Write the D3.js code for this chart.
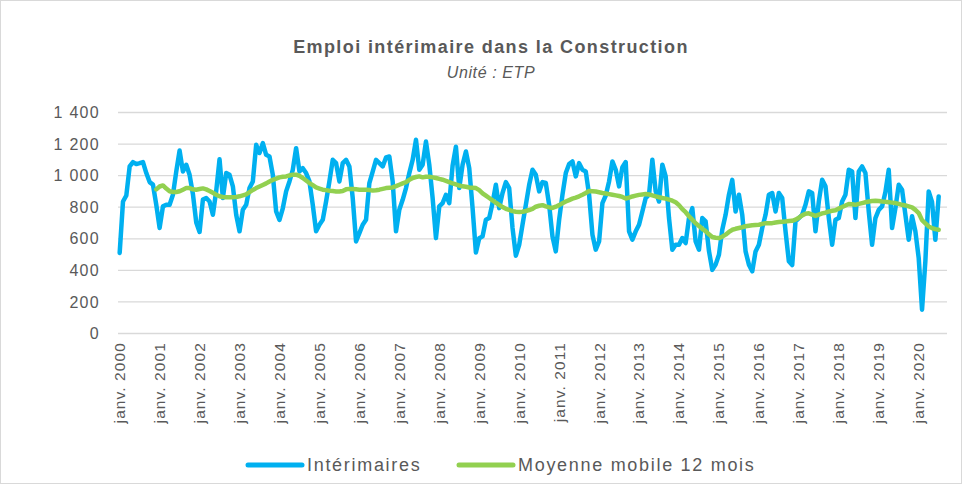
<!DOCTYPE html>
<html>
<head>
<meta charset="utf-8">
<script src="https://cdn.jsdelivr.net/npm/d3@7"></script>
<style>
  body { margin: 0; background: #fff; }
  svg { font-family: "Liberation Sans", Arial, sans-serif; }
  .y.axis text { fill: #595959; font-size: 16px; letter-spacing: 1.3px; }
  .x.axis text { fill: #595959; font-size: 15.5px; letter-spacing: 1.1px; }
  .legend text { fill: #595959; font-size: 18px; letter-spacing: 1.7px; }
</style>
</head>
<body>
<svg width="962" height="484"></svg>
<script>
// Titles and legend labels
const titre = "Emploi intérimaire dans la Construction";
const sousTitre = "Unité : ETP";
const series = ["Intérimaires", "Moyenne mobile 12 mois"];

// Y ticks
const yTicks = [0, 200, 400, 600, 800, 1000, 1200, 1400];

// X tick labels (one per January)
const etiquettesAnnees = ["janv. 2000", "janv. 2001", "janv. 2002", "janv. 2003", "janv. 2004",
    "janv. 2005", "janv. 2006", "janv. 2007", "janv. 2008", "janv. 2009", "janv. 2010",
    "janv. 2011", "janv. 2012", "janv. 2013", "janv. 2014", "janv. 2015", "janv. 2016",
    "janv. 2017", "janv. 2018", "janv. 2019", "janv. 2020"];

// Categories: months Jan 2000 -> Sep 2020
const mois = d3.timeMonth.range(new Date(2000, 0, 1), new Date(2020, 9, 1));

// Monthly temp workers (Jan 2000 -> Jul 2020)
const interimaires = [
    507, 833, 871, 1055, 1083, 1070, 1076, 1083, 1013, 956, 940, 812,   // 2000
    665, 802, 812, 812, 876, 1023, 1156, 1023, 1066, 1002, 880, 700,    // 2001
    640, 845, 855, 833, 749, 900, 1100, 855, 1013, 1002, 929, 749,      // 2002
    644, 781, 812, 918, 960, 1192, 1140, 1203, 1129, 1118, 1002, 770,   // 2003
    717, 790, 897, 960, 1034, 1171, 1023, 1044, 1013, 960, 812, 644,    // 2004
    686, 717, 833, 960, 1097, 1076, 960, 1076, 1097, 1055, 855, 580,    // 2005
    633, 686, 717, 950, 1023, 1097, 1076, 1055, 1112, 1118, 960, 644,   // 2006
    781, 844, 918, 1013, 1097, 1224, 1034, 1066, 1213, 1066, 855, 601,  // 2007
    802, 823, 876, 823, 1060, 1180, 918, 1066, 1150, 1044, 791, 510,    // 2008
    600, 612, 717, 728, 823, 939, 791, 887, 956, 918, 665, 490,         // 2009
    559, 686, 812, 939, 1034, 1002, 897, 956, 950, 812, 612, 517,       // 2010
    717, 876, 1013, 1070, 1087, 992, 1076, 1034, 1023, 876, 623, 528,   // 2011
    580, 823, 871, 960, 1087, 1034, 929, 1050, 1083, 644, 591, 644,     // 2012
    686, 770, 855, 876, 1097, 897, 833, 1066, 992, 728, 528, 559,       // 2013
    559, 601, 570, 728, 791, 580, 528, 728, 707, 520, 400, 433,         // 2014
    496, 654, 749, 876, 970, 770, 876, 749, 517, 433, 391, 517,         // 2015
    559, 665, 749, 876, 887, 770, 887, 855, 644, 454, 430, 707,         // 2016
    728, 749, 812, 897, 887, 644, 833, 971, 929, 728, 559, 717,         // 2017
    728, 833, 876, 1034, 1023, 728, 1023, 1055, 1013, 770, 559, 728,    // 2018
    780, 802, 893, 1034, 665, 791, 939, 908, 749, 591, 739, 644,        // 2019
    475, 148, 454, 897, 830, 590, 865                                   // 2020
];

// 12-month moving average, Dec 2000 -> Jul 2020
const debutMoyenne = 11;
const moyenne = [
    910,                                                                 // 2000
    928, 935, 915, 898, 893, 893, 898, 908, 918, 918, 910, 908,          // 2001
    912, 916, 910, 900, 888, 876, 866, 862, 860, 860, 860, 862,          // 2002
    866, 872, 878, 892, 906, 918, 928, 938, 948, 960, 970, 978,          // 2003
    986, 990, 992, 998, 1003, 1003, 995, 982, 966, 950, 936, 922,        // 2004
    915, 908, 905, 901, 899, 897, 897, 900, 910, 913, 912, 910,          // 2005
    908, 908, 907, 906, 902, 904, 908, 913, 918, 920, 922, 930,          // 2006
    939, 948, 956, 970, 982, 988, 992, 986, 990, 990, 986, 982,          // 2007
    976, 971, 964, 956, 948, 941, 934, 929, 926, 922, 920, 918,          // 2008
    905, 885, 870, 855, 840, 825, 812, 798, 787, 780, 772, 768,          // 2009
    767, 768, 773, 779, 786, 800, 806, 810, 802, 796, 792, 800,          // 2010
    810, 822, 833, 842, 851, 858, 866, 876, 887, 900, 898, 896,          // 2011
    892, 887, 884, 880, 876, 872, 868, 862, 852, 858, 865, 870,          // 2012
    875, 878, 880, 877, 872, 866, 860, 855, 851, 845, 838, 828,          // 2013
    810, 785, 765, 740, 718, 695, 678, 660, 645, 625, 608, 603,          // 2014
    601, 610, 623, 640, 654, 660, 665, 670, 676, 679, 682, 684,          // 2015
    686, 691, 696, 696, 696, 700, 703, 705, 707, 709, 711, 718,          // 2016
    730, 745, 755, 758, 750, 742, 750, 758, 762, 770, 774, 777,          // 2017
    788, 798, 808, 817, 815, 812, 818, 823, 828, 833, 836, 838,          // 2018
    836, 833, 831, 829, 826, 823, 818, 812, 808, 802, 796, 780,          // 2019
    760, 715, 695, 675, 665, 658, 654                                    // 2020
];

const couleurs = ["#00b0f0", "#92d050"];

var svg = d3.select("svg");

svg.append("rect")
    .attr("x", 0.5).attr("y", 0.5)
    .attr("width", 961).attr("height", 483)
    .attr("fill", "#fff")
    .attr("stroke", "#d9d9d9");

var chartG = svg.append("g");

// **** Scales ****
var xScale = d3.scaleBand().domain(mois).range([118, 947]);
var yScale = d3.scaleLinear().domain([0, 1400]).range([333, 112]);

function xCentre(d) {
    return xScale(d) + xScale.bandwidth() / 2;
}

var formatMilliers = function(v) {
    return d3.format(",")(v).replace(/,/g, " ");
};

// **** Axes ****
var yAxis = chartG.append("g").attr("class", "y axis")
    .attr("transform", "translate(118,0)")
    .call(d3.axisLeft(yScale)
        .tickValues(yTicks)
        .tickSize(-(947 - 118))
        .tickPadding(18)
        .tickFormat(formatMilliers));
yAxis.select(".domain").remove();
yAxis.selectAll("line").attr("stroke", "#d9d9d9").attr("stroke-width", 1.3);
yAxis.selectAll("text").attr("dy", "0.35em");

var janviers = mois.filter(d => d.getMonth() === 0);

var xAxis = chartG.append("g").attr("class", "x axis")
    .attr("transform", "translate(0,333)")
    .call(d3.axisBottom(xScale)
        .tickValues(janviers)
        .tickSize(0)
        .tickFormat((d, i) => etiquettesAnnees[i]));
xAxis.select(".domain").remove();
xAxis.selectAll("text")
    .attr("text-anchor", "end")
    .attr("transform", "rotate(-90)")
    .attr("x", -9)
    .attr("y", 0)
    .attr("dy", "0.35em");

// **** Lines ****
var ligne = d3.line()
    .x(d => xCentre(d[0]))
    .y(d => yScale(d[1]));

var pointsInterim = interimaires.map((v, i) => [mois[i], v]);
var pointsMoyenne = moyenne.map((v, i) => [mois[i + debutMoyenne], v]);

chartG.append("path")
    .datum(pointsInterim)
    .attr("d", ligne)
    .attr("fill", "none")
    .attr("stroke", couleurs[0])
    .attr("stroke-width", 4.5)
    .attr("stroke-linejoin", "round")
    .attr("stroke-linecap", "round");

chartG.append("path")
    .datum(pointsMoyenne)
    .attr("d", ligne)
    .attr("fill", "none")
    .attr("stroke", couleurs[1])
    .attr("stroke-width", 4.5)
    .attr("stroke-linejoin", "round")
    .attr("stroke-linecap", "round");

// **** Title ****
svg.append("text")
    .attr("x", 491).attr("y", 53)
    .attr("text-anchor", "middle")
    .attr("fill", "#595959")
    .style("font-size", "18px")
    .style("letter-spacing", "1.4px")
    .style("font-weight", "bold")
    .text(titre);

svg.append("text")
    .attr("x", 491).attr("y", 78)
    .attr("text-anchor", "middle")
    .attr("fill", "#595959")
    .style("font-size", "16px")
    .style("letter-spacing", "0.6px")
    .style("font-style", "italic")
    .text(sousTitre);

// **** Legend ****
var legende = svg.append("g").attr("class", "legend");
var legendX = [248, 459];

var item = legende.selectAll("g")
    .data(series)
    .enter()
    .append("g")
    .attr("transform", (d, i) => `translate(${legendX[i]},465)`);

item.append("line")
    .attr("x1", 0).attr("x2", 54)
    .attr("stroke", (d, i) => couleurs[i])
    .attr("stroke-width", 5)
    .attr("stroke-linecap", "round");

item.append("text")
    .attr("x", 59)
    .attr("dy", "0.35em")
    .text(d => d);
</script>
</body>
</html>
